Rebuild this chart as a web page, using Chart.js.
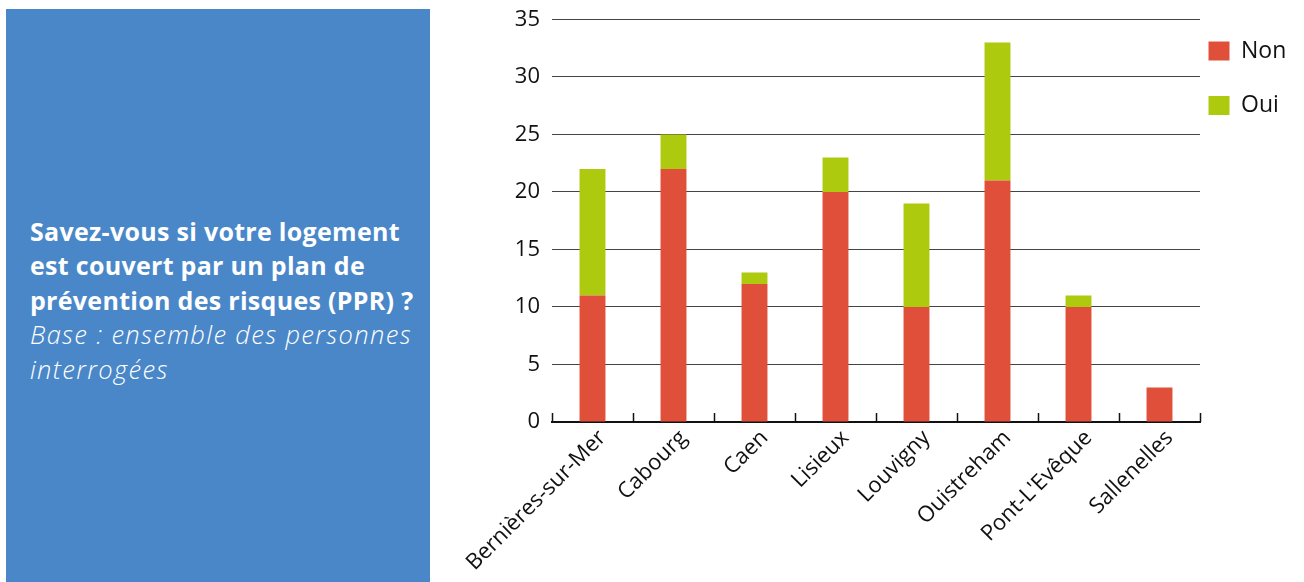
<!DOCTYPE html>
<html lang="fr">
<head>
<meta charset="utf-8">
<script src="https://cdn.jsdelivr.net/npm/chart.js@4"></script>
<style>
  html, body { margin: 0; padding: 0; background: #fff; width: 1304px; height: 582px; overflow: hidden; position: relative; }
  #panel {
    position: absolute; left: 6px; top: 9px; width: 424px; height: 600px;
    background: #4a87c8; color: #fff;
    display: flex; align-items: center;
  }
  #panel .txt { margin: 0 0 18px 24px; font-family: "Open Sans", sans-serif; line-height: 34.5px; white-space: nowrap; }
  #panel .q { font-weight: bold; font-size: 25px; letter-spacing: 0.3px; }
  #panel .b { font-style: italic; font-weight: 300; font-size: 25.5px; letter-spacing: 1.35px; }
  #wrap { position: absolute; left: 440px; top: 0; width: 864px; height: 582px; }
</style>
</head>
<body>
<div id="panel">
  <div class="txt">
    <div class="q">Savez-vous si votre logement<br>est couvert par un plan de<br>prévention des risques (PPR) ?</div>
    <div class="b">Base : ensemble des personnes<br>interrogées</div>
  </div>
</div>
<div id="wrap"><canvas id="chart" width="864" height="582"></canvas></div>
<script>
  // Données
  const communes = ['Bernières-sur-Mer', 'Cabourg', 'Caen', 'Lisieux', 'Louvigny', 'Ouistreham', "Pont-L'Evêque", 'Sallenelles'];
  const nonValues = [11, 22, 12, 20, 10, 21, 10, 3];
  const ouiValues = [11, 3, 1, 3, 9, 12, 1, 0];
  const yTicks = [0, 5, 10, 15, 20, 25, 30, 35];

  const FONT = '"Open Sans", sans-serif';

  // petits traits de graduation vers l'intérieur, entre les catégories
  const innerTicks = {
    id: 'innerTicks',
    afterDatasetsDraw(chart) {
      const x = chart.scales.x;
      const ctx = chart.ctx;
      const bottom = chart.chartArea.bottom;
      ctx.save();
      ctx.strokeStyle = '#111';
      ctx.lineWidth = 1.5;
      for (let i = 0; i <= communes.length; i++) {
        const px = Math.round(x.getPixelForValue(i - 0.5)) + 0.5;
        ctx.beginPath();
        ctx.moveTo(px, bottom);
        ctx.lineTo(px, bottom - 9);
        ctx.stroke();
      }
      ctx.restore();
    }
  };

  // rapproche la légende de la zone de tracé
  const legendShift = {
    id: 'legendShift',
    afterLayout(chart) {
      chart.legend.left -= 23;
    }
  };

  new Chart(document.getElementById('chart').getContext('2d'), {
    type: 'bar',
    data: {
      labels: communes,
      datasets: [
        { label: 'Non', data: nonValues, backgroundColor: '#e04f39', barPercentage: 0.4, categoryPercentage: 0.8 },
        { label: 'Oui', data: ouiValues, backgroundColor: '#adca0e', barPercentage: 0.4, categoryPercentage: 0.8 }
      ]
    },
    options: {
      responsive: false,
      animation: false,
      layout: { padding: { top: 8, left: 0, right: 0, bottom: 0 } },
      scales: {
        x: {
          stacked: true,
          grid: { display: false, drawTicks: false },
          border: { display: true, color: '#111', width: 2 },
          ticks: {
            color: '#111',
            font: { family: FONT, size: 22 },
            minRotation: 45,
            maxRotation: 45,
            padding: 3,
            labelOffset: 10,
            autoSkip: false
          },
          afterFit(scale) { scale.height = 160; }
        },
        y: {
          stacked: true,
          min: 0,
          max: 35,
          afterBuildTicks(scale) { scale.ticks = yTicks.map(v => ({ value: v })); },
          grid: { color: '#444', lineWidth: 1, drawTicks: false },
          border: { display: false },
          ticks: {
            color: '#111',
            font: { family: FONT, size: 22, lineHeight: 0.68 },
            padding: 12
          },
          afterFit(scale) { scale.width = 112; }
        }
      },
      plugins: {
        legend: {
          position: 'right',
          align: 'start',
          maxWidth: 104,
          labels: {
            color: '#111',
            font: { family: FONT, size: 23 },
            boxWidth: 21,
            boxHeight: 19,
            padding: 31.5
          }
        },
        tooltip: { enabled: false }
      }
    },
    plugins: [innerTicks, legendShift]
  });
</script>
</body>
</html>
